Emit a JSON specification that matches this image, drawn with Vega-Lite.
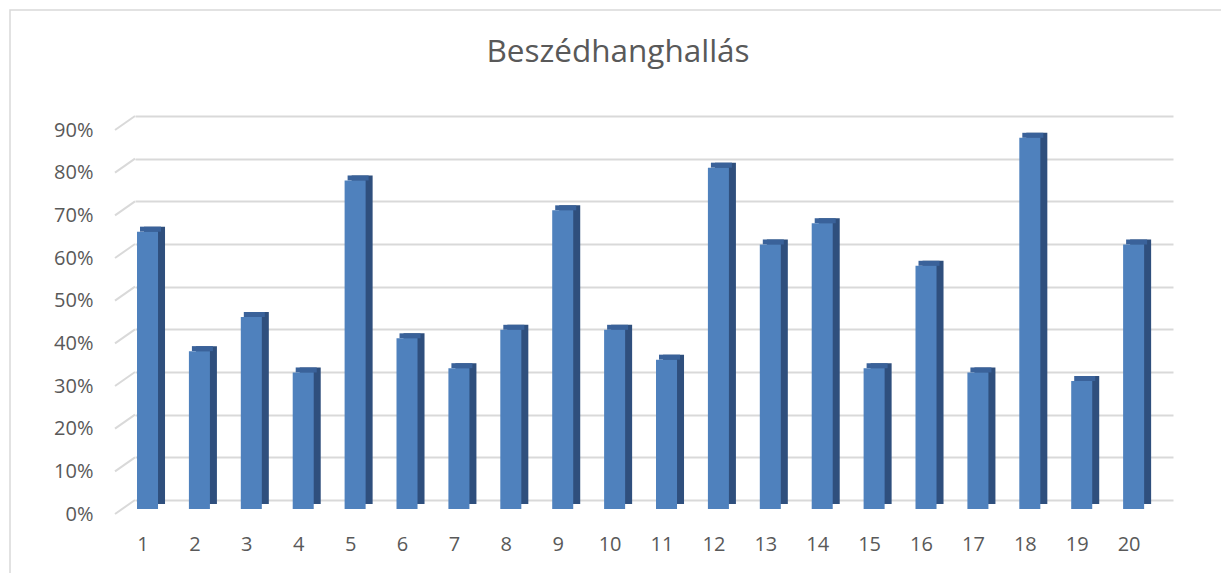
{
  "$schema": "https://vega.github.io/schema/vega-lite/v6.json",
  "autosize": "none",
  "width": 1038,
  "height": 384,
  "padding": {"left": 135, "top": 116, "right": 48, "bottom": 73},
  "background": "white",
  "title": {
    "text": "Beszédhanghallás",
    "font": "Open Sans",
    "fontSize": 31.5,
    "fontWeight": "normal",
    "color": "#595959",
    "anchor": "middle",
    "frame": "group",
    "baseline": "alphabetic",
    "offset": -84,
    "dx": -36
  },
  "datasets": {
    "bars": [
      {"n": "1", "v": 0.65},
      {"n": "2", "v": 0.37},
      {"n": "3", "v": 0.45},
      {"n": "4", "v": 0.32},
      {"n": "5", "v": 0.77},
      {"n": "6", "v": 0.40},
      {"n": "7", "v": 0.33},
      {"n": "8", "v": 0.42},
      {"n": "9", "v": 0.70},
      {"n": "10", "v": 0.42},
      {"n": "11", "v": 0.35},
      {"n": "12", "v": 0.80},
      {"n": "13", "v": 0.62},
      {"n": "14", "v": 0.67},
      {"n": "15", "v": 0.33},
      {"n": "16", "v": 0.57},
      {"n": "17", "v": 0.32},
      {"n": "18", "v": 0.87},
      {"n": "19", "v": 0.30},
      {"n": "20", "v": 0.62}
    ],
    "ticks": [
      {"t": 0}, {"t": 0.1}, {"t": 0.2}, {"t": 0.3}, {"t": 0.4},
      {"t": 0.5}, {"t": 0.6}, {"t": 0.7}, {"t": 0.8}, {"t": 0.9}
    ]
  },
  "layer": [
    {
      "data": {"name": "ticks"},
      "mark": {"type": "rule", "color": "#D9D9D9", "strokeWidth": 2, "y2Offset": 14, "clip": false},
      "encoding": {
        "x": {"value": 0},
        "x2": {"value": -20},
        "y": {
          "field": "t",
          "type": "quantitative",
          "scale": {"domain": [0, 0.9], "nice": false, "zero": true},
          "axis": {
            "values": [0, 0.1, 0.2, 0.3, 0.4, 0.5, 0.6, 0.7, 0.8, 0.9],
            "format": ".0%",
            "title": null,
            "domain": false,
            "ticks": false,
            "grid": true,
            "gridColor": "#D9D9D9",
            "gridWidth": 2,
            "labelFont": "Open Sans",
            "labelFontSize": 20,
            "labelColor": "#595959",
            "labelPadding": 42,
            "labelOffset": 14,
            "labelBaseline": "middle"
          }
        },
        "y2": {"field": "t"}
      }
    },
    {
      "data": {"name": "bars"},
      "mark": {"type": "bar", "color": "#2F4F7D", "xOffset": 7, "yOffset": 4, "y2Offset": 6},
      "encoding": {
        "x": {
          "field": "n",
          "type": "ordinal",
          "sort": null,
          "scale": {"paddingInner": 0.595, "paddingOuter": 0.2975, "align": 0.065},
          "axis": {
            "title": null,
            "domain": false,
            "ticks": false,
            "grid": false,
            "labelAngle": 0,
            "labelFont": "Open Sans",
            "labelFontSize": 20,
            "labelColor": "#595959",
            "labelPadding": 44,
            "labelOffset": -4.5,
            "labelBaseline": "middle"
          }
        },
        "y": {"field": "v", "type": "quantitative"}
      }
    },
    {
      "data": {"name": "bars"},
      "mark": {"type": "bar", "color": "#3A629A", "xOffset": 3, "yOffset": 4, "y2Offset": 9},
      "encoding": {
        "x": {"field": "n", "type": "ordinal", "sort": null},
        "y": {"field": "v", "type": "quantitative"},
        "y2": {"field": "v"}
      }
    },
    {
      "data": {"name": "bars"},
      "mark": {"type": "bar", "color": "#4F81BD", "yOffset": 9, "y2Offset": 9},
      "encoding": {
        "x": {"field": "n", "type": "ordinal", "sort": null},
        "y": {"field": "v", "type": "quantitative"}
      }
    },
    {
      "data": {"values": [{}]},
      "mark": {"type": "rect", "fill": null, "stroke": "#D9D9D9", "strokeWidth": 1.5, "clip": false},
      "encoding": {
        "x": {"value": -125},
        "y": {"value": -106},
        "x2": {"value": 1100},
        "y2": {"value": 480}
      }
    }
  ],
  "config": {"view": {"stroke": null}}
}
